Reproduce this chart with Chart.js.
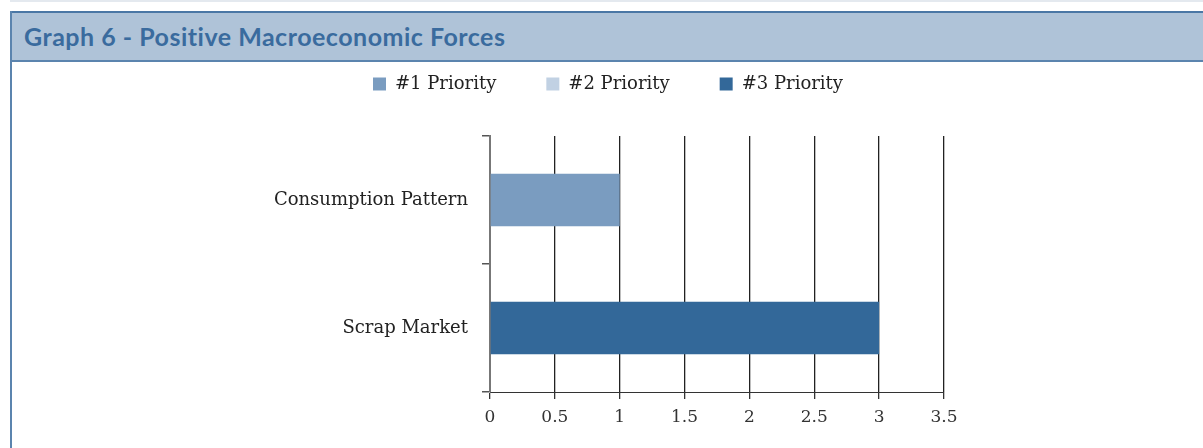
<!DOCTYPE html>
<html>
<head>
<meta charset="utf-8">
<script src="https://cdn.jsdelivr.net/npm/chart.js@4/dist/chart.umd.min.js"></script>
<style>
  html, body { margin: 0; padding: 0; background: #fff; }
  body { width: 1203px; height: 448px; position: relative; overflow: hidden; }
  .strip { position: absolute; left: 10px; top: 0; right: 0; height: 2px; background: #e4e9ef; }
  .frame { position: absolute; left: 10px; top: 11px; width: 2px; bottom: 0; background: #5b84ae; }
  .header {
    position: absolute; left: 10px; top: 11px; right: 0; height: 47px;
    background: #afc3d8; border-top: 2px solid #4a77a5; border-bottom: 2px solid #5b84ae;
  }
  .header h1 {
    margin: 0; position: absolute; left: 14px; top: 8px;
    font: bold 25px Lato, sans-serif; color: #3a6b9e; letter-spacing: 0.5px;
  }
  #chart { position: absolute; left: 12px; top: 0; }
</style>
</head>
<body>
<div class="strip"></div>
<div class="header"><h1>Graph 6 - Positive Macroeconomic Forces</h1></div>
<div class="frame"></div>
<canvas id="chart" width="1191" height="448"></canvas>
<script>
// categories and series
const categories = ['Consumption Pattern', 'Scrap Market'];
const seriesNames = ['#1 Priority', '#2 Priority', '#3 Priority'];
const priority1 = [1, null];
const priority2 = [null, null];
const priority3 = [null, 3];
const xTicks = [0, 0.5, 1, 1.5, 2, 2.5, 3, 3.5];

const COLORS = ['#7a9cc0', '#c1d1e3', '#336899'];
const SERIF = '"DejaVu Serif", "Liberation Serif", serif';

// squeeze the legend box so the plot starts where it does in the picture
const legendHeight = {
    id: 'legendHeight',
    beforeInit(chart) {
        const fit = chart.legend.fit;
        chart.legend.fit = function () {
            fit.call(this);
            this.height = 111;
        };
    },
};

new Chart(document.getElementById('chart'), {
    type: 'bar',
    data: {
        labels: categories,
        datasets: [priority1, priority2, priority3].map((d, i) => ({
            label: seriesNames[i],
            data: d,
            backgroundColor: COLORS[i],
            borderWidth: 0,
            categoryPercentage: 0.82,
            barPercentage: 0.5,
        })),
    },
    plugins: [legendHeight],
    options: {
        indexAxis: 'y',
        responsive: false,
        animation: false,
        devicePixelRatio: 1,
        layout: { padding: { left: 260, right: 259, top: 25, bottom: 0 } },
        plugins: {
            tooltip: { enabled: false },
            legend: {
                position: 'top',
                labels: {
                    boxWidth: 13, boxHeight: 13, padding: 50,
                    color: '#222', font: { family: SERIF, size: 18 },
                },
            },
        },
        scales: {
            x: {
                stacked: true,
                min: 0, max: 3.5,
                afterFit: s => { s.height = 56; },
                afterBuildTicks: s => { s.ticks = xTicks.map(v => ({ value: v })); },
                ticks: {
                    color: '#333', padding: 8, maxRotation: 0,
                    font: { family: SERIF, size: 17 },
                    callback: v => String(v),
                },
                grid: { color: '#222', lineWidth: 1.3, tickLength: 7, tickColor: '#333' },
                border: { color: '#333', width: 1 },
            },
            y: {
                stacked: true,
                afterFit: s => { s.width = 218; },
                ticks: { color: '#222', padding: 14, font: { family: SERIF, size: 18 } },
                grid: { offset: true, drawOnChartArea: false, tickLength: 8, color: '#555', lineWidth: 1.5 },
                border: { color: '#777', width: 2 },
            },
        },
    },
});
</script>
</body>
</html>
